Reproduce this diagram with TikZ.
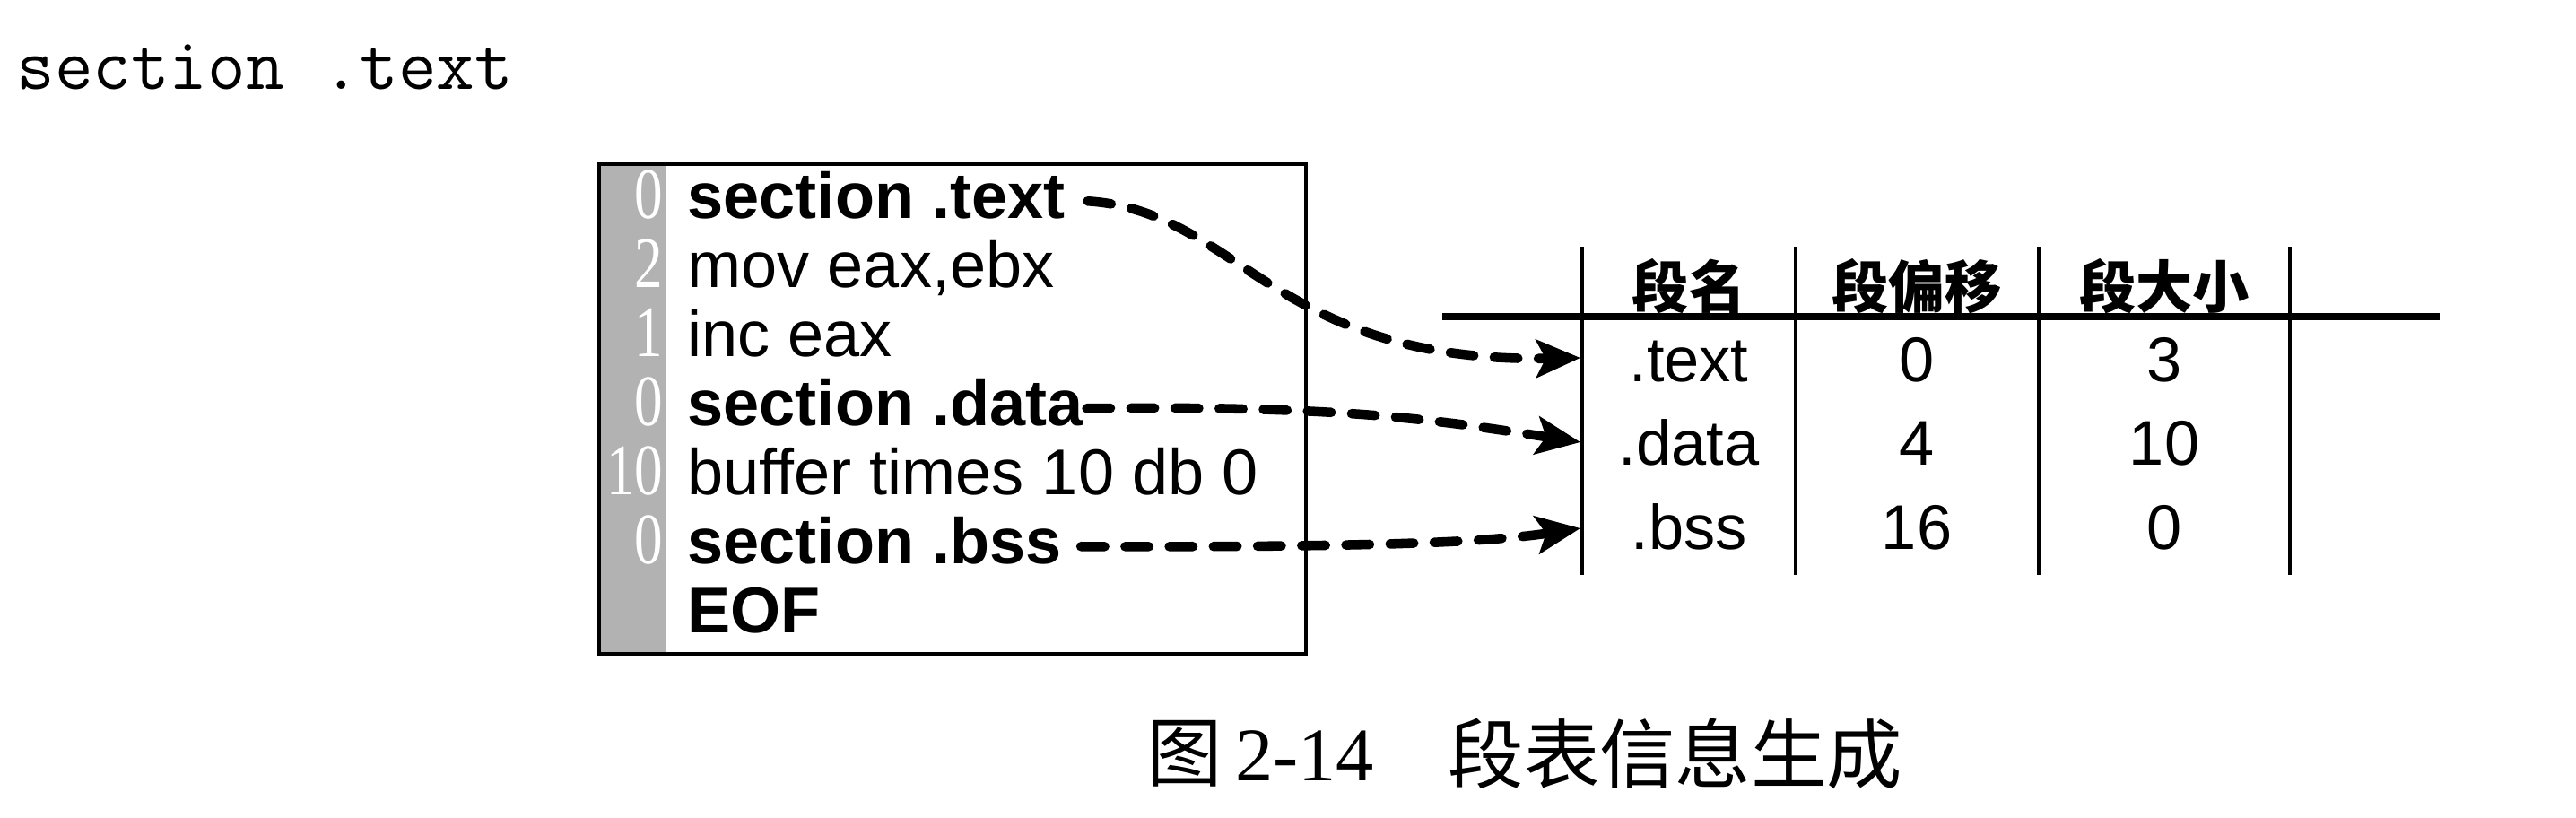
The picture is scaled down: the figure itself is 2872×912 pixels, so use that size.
\documentclass[tikz,border=0pt]{standalone}
\usepackage{fontspec}
\setmainfont{Liberation Serif}
\newfontfamily\codefont{Liberation Sans}
\newfontfamily\cjk{Noto Sans CJK SC}
\usetikzlibrary{arrows.meta}
\tikzset{
  codeline/.style={anchor=base west,inner sep=0pt,font=\fontsize{20.5pt}{24pt}\codefont},
  linenum/.style={anchor=base east,inner sep=0pt,text=white,xscale=.78,font=\fontsize{23pt}{26pt}\rmfamily},
  cell/.style={anchor=base,inner sep=0pt,font=\fontsize{20pt}{24pt}\codefont},
  head/.style={inner sep=0pt,font=\fontsize{18pt}{22pt}\cjk\bfseries},
  captext/.style={anchor=west,inner sep=0pt,font=\fontsize{24pt}{28pt}\cjk},
  link/.style={line width=3pt,line cap=round,dash pattern=on 7.5pt off 6.5pt,
    -{Stealth[length=14pt,width=12pt,inset=3pt,line cap=butt]}},
}
\begin{document}
\begin{tikzpicture}[x=0.01cm,y=-0.01cm]
  \useasboundingbox (0,0) rectangle (2872,912);
  \node[anchor=base west,inner sep=0pt,font=\fontsize{23.5pt}{26pt}\ttfamily] (head) at (18,100) {section .text};
  % source box with line sizes
  \fill[black!30] (668,183) rectangle (742,729);
  \draw[line width=1.4pt] (668,183) rectangle (1456,729);
  \foreach \i/\n/\w/\txt in {0/0/\bfseries/section .text, 1/2/\mdseries/{mov eax,ebx},
      2/1/\mdseries/inc eax, 3/0/\bfseries/section .data, 4/10/\mdseries/buffer times 10 db 0,
      5/0/\bfseries/section .bss, 6//\bfseries/EOF}
  {
    \node[codeline] (line\i) at (766,243+77*\i) {\w\txt};
    \node[linenum] (num\i) at (740,243+77*\i) {\n};
  }
  % section table
  \foreach \x in {1764,2002,2273,2553} {\draw[line width=1.4pt] (\x,275) -- (\x,641);}
  \draw[line width=2.2pt] (1608,353) -- (2720,353);
  \node[head] (hname) at (1883,319) {段名};
  \node[head] (hoff) at (2137,319) {段偏移};
  \node[head] (hsize) at (2413,319) {段大小};
  \foreach \r/\y/\sec/\off/\size in {1/425/.text/0/3, 2/518/.data/4/10, 3/612/.bss/16/0}
  {
    \node[cell] (name\r) at (1883,\y) {\sec};
    \node[cell] (off\r) at (2137,\y) {\off};
    \node[cell] (size\r) at (2413,\y) {\size};
  }
  \coordinate (in1) at (1762,399);
  \coordinate (in2) at (1762,493);
  \coordinate (in3) at (1762,589);
  \draw[link] ([xshift=7pt,yshift=-2pt]line0.east) .. controls (1380,235) and (1420,405) .. (in1);
  \draw[link] ([xshift=1pt,yshift=-2pt]line3.east) .. controls (1500,452) and (1600,468) .. (in2);
  \draw[link] ([xshift=6pt,yshift=-2pt]line5.east) .. controls (1500,610) and (1650,606) .. (in3);
  % caption
  \node[captext] (fig) at (1278,840) {图\,{\rmfamily 2-14}};
  \node[captext] (title) at (1614,840) {段表信息生成};
\end{tikzpicture}
\end{document}
